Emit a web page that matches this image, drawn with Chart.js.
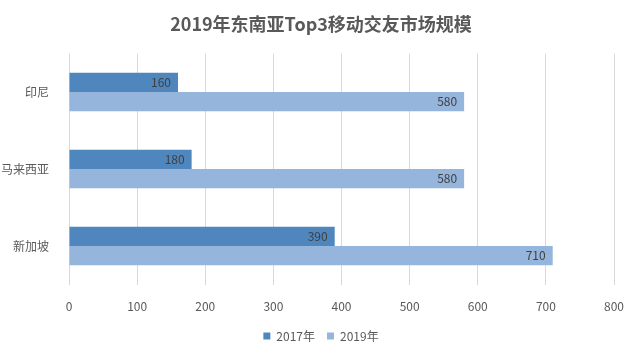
<!DOCTYPE html>
<html><head><meta charset="utf-8">
<script src="https://cdn.jsdelivr.net/npm/chart.js@4"></script>
<style>html,body{margin:0;padding:0;background:#fff}#wrap{width:640px;height:357px}</style>
</head><body><div id="wrap"><canvas id="c" width="640" height="357"></canvas></div>
<script>
const categories = ['印尼', '马来西亚', '新加坡'];
const series2017 = [160, 180, 390];
const series2019 = [580, 580, 710];
const seriesNames = ['2017年', '2019年'];
const xTicks = [0, 100, 200, 300, 400, 500, 600, 700, 800];

const FONT = '"Noto Sans CJK SC", "Noto Sans", sans-serif';

const barLabels = {
  id: 'barLabels',
  afterDatasetsDraw(chart) {
    const ctx = chart.ctx;
    ctx.save();
    ctx.font = '12px ' + FONT;
    ctx.fillStyle = '#404040';
    ctx.textAlign = 'right';
    ctx.textBaseline = 'middle';
    chart.data.datasets.forEach((ds, di) => {
      const meta = chart.getDatasetMeta(di);
      meta.data.forEach((el, i) => {
        ctx.fillText(String(ds.data[i]), el.x - 7, el.y);
      });
    });
    ctx.restore();
  }
};

new Chart(document.getElementById('c'), {
  type: 'bar',
  data: {
    labels: categories,
    datasets: [
      { label: seriesNames[0], data: series2017, backgroundColor: '#4f86bd', borderWidth: 0 },
      { label: seriesNames[1], data: series2019, backgroundColor: '#95b5dc', borderWidth: 0 }
    ]
  },
  options: {
    indexAxis: 'y',
    responsive: false,
    animation: false,
    layout: { padding: { left: 2, right: 0, top: 0, bottom: 5 } },
    datasets: { bar: { categoryPercentage: 0.5, barPercentage: 1.0 } },
    plugins: {
      title: {
        display: true,
        text: '2019年东南亚Top3移动交友市场规模',
        color: '#595959',
        font: { family: FONT, size: 18, weight: 'bold' },
        padding: { top: 13, bottom: 19 }
      },
      legend: {
        position: 'bottom',
        labels: {
          boxWidth: 7, boxHeight: 7, color: '#595959',
          font: { family: FONT, size: 12 }, padding: 12
        }
      },
      tooltip: { enabled: false }
    },
    scales: {
      x: {
        min: 0, max: 800,
        afterBuildTicks(axis) { axis.ticks = xTicks.map(v => ({ value: v })); },
        afterFit(axis) { axis.height -= 11; axis.paddingRight = 26; },
        grid: { color: '#d9d9d9', lineWidth: 1, drawTicks: false },
        border: { display: false },
        ticks: { color: '#595959', font: { family: FONT, size: 12 }, padding: 15 }
      },
      y: {
        afterFit(axis) { axis.width = 67; },
        grid: { display: false },
        border: { display: false },
        ticks: { color: '#595959', font: { family: FONT, size: 12 }, padding: 12 }
      }
    }
  },
  plugins: [barLabels]
});
</script>
</body></html>
